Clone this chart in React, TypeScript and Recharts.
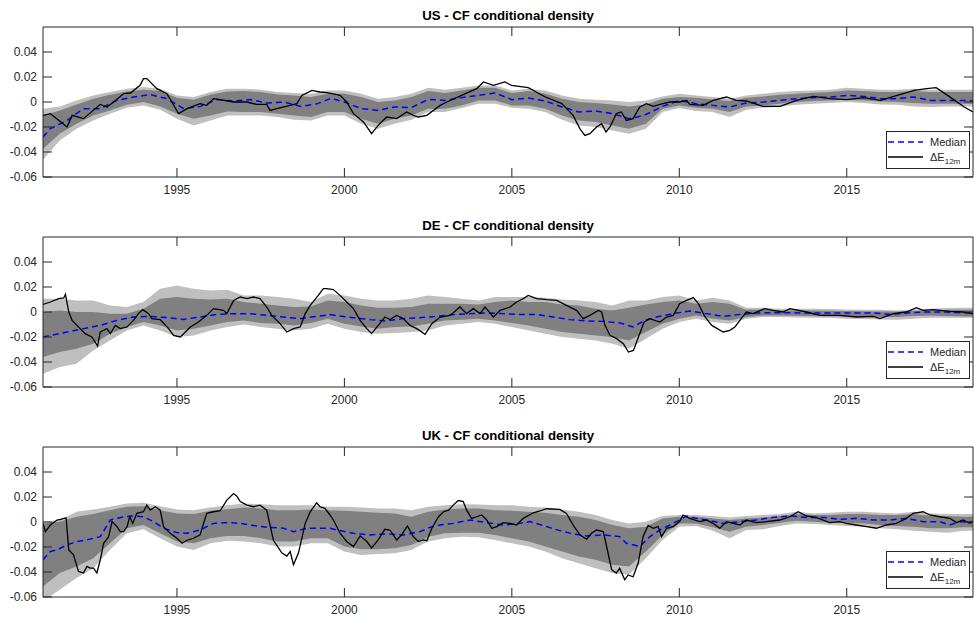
import React from "react";
import { ComposedChart, XAxis, YAxis, Area, Line } from "recharts";

// ---- shared axis data ----
const X_DOMAIN: [number, number] = [1991, 2018.77];
const X_TICKS = [1995, 2000, 2005, 2010, 2015];
const Y_DOMAIN: [number, number] = [-0.06, 0.06];
const Y_TICKS = [-0.06, -0.04, -0.02, 0, 0.02, 0.04];
const TITLES = ["US - CF conditional density", "DE - CF conditional density", "UK - CF conditional density"];
const LEGEND_LABELS = ["Median", "ΔE", "12m"];

// band dates (years)
const bandYears = [
  1991.0, 1991.5, 1992.0, 1992.5, 1993.0, 1993.5, 1994.0, 1994.5, 1995.0, 1995.5,
  1996.0, 1996.5, 1997.0, 1997.5, 1998.0, 1998.5, 1999.0, 1999.5, 2000.0, 2000.5,
  2001.0, 2001.5, 2002.0, 2002.5, 2003.0, 2003.5, 2004.0, 2004.5, 2005.0, 2005.5,
  2006.0, 2006.5, 2007.0, 2007.5, 2008.0, 2008.5, 2009.0, 2009.5, 2010.0, 2010.5,
  2011.0, 2011.5, 2012.0, 2012.5, 2013.0, 2013.5, 2014.0, 2014.5, 2015.0, 2015.5,
  2016.0, 2016.5, 2017.0, 2017.5, 2018.0, 2018.5, 2018.77,
];

// ---- US (values in per mille) ----
const usOuterHi = [-5.3, -3.5, 1.3, 5.3, 8.0, 10.7, 12.0, 10.7, 5.3, 4.0, 8.0, 10.7, 10.7, 9.9, 8.0, 7.2, 6.7, 9.3, 9.3, 6.7, 2.7, 4.0, 6.7, 11.5, 9.9, 11.5, 13.3, 13.3, 9.3, 10.7, 9.3, 5.3, 2.7, 1.9, 1.3, 0.0, 1.3, 4.5, 6.7, 5.3, 4.0, 2.7, 5.3, 6.7, 8.0, 8.8, 9.3, 9.9, 11.5, 10.7, 9.9, 9.9, 10.7, 9.9, 9.9, 9.9, 9.9];
const usInnerHi = [-10.7, -6.7, -1.9, 2.7, 5.9, 8.5, 9.9, 8.8, 3.5, 1.9, 6.1, 8.5, 8.8, 8.0, 6.1, 5.3, 4.0, 6.7, 6.7, 4.0, 0.0, 1.3, 4.0, 8.8, 7.2, 9.3, 11.5, 11.5, 7.2, 8.8, 6.7, 2.7, 0.0, -0.8, -1.9, -3.5, -1.9, 2.7, 4.0, 3.5, 2.1, 0.8, 3.5, 4.5, 5.9, 6.7, 7.5, 8.0, 9.3, 8.8, 8.0, 8.0, 8.8, 8.0, 8.0, 8.0, 8.0];
const usInnerLo = [-37.3, -25.3, -17.3, -10.7, -6.7, -2.1, 0.0, -3.5, -9.3, -13.3, -10.7, -7.5, -8.0, -8.0, -9.3, -10.7, -12.0, -8.0, -8.0, -13.3, -17.3, -13.3, -10.7, -5.3, -5.3, -2.7, 1.3, 1.3, -2.7, -2.7, -5.3, -10.7, -14.7, -16.0, -18.7, -21.3, -17.3, -5.3, -2.7, -4.5, -5.3, -8.0, -3.5, -2.7, -1.3, 0.0, 0.8, 1.3, 1.9, 1.3, 0.5, 0.0, -0.8, -1.3, -1.3, -1.3, -1.3];
const usOuterLo = [-46.1, -30.7, -21.3, -14.7, -9.3, -4.5, -2.7, -6.1, -13.3, -18.7, -14.7, -10.7, -10.7, -10.7, -12.0, -14.1, -14.7, -10.7, -10.7, -17.3, -21.3, -17.3, -14.1, -8.0, -8.0, -4.8, -1.3, -1.3, -4.5, -5.3, -8.0, -14.1, -18.7, -20.0, -22.7, -25.3, -21.3, -8.0, -4.8, -7.2, -8.0, -12.0, -6.1, -4.5, -3.5, -2.1, -1.3, -0.8, 0.0, -0.8, -1.9, -2.1, -3.5, -4.0, -3.5, -3.5, -3.5];
const usMedian: [number, number][] = [
  [1991.0, -28], [1991.22, -21.3], [1991.72, -14.7], [1992.21, -5.3], [1992.71, -5.3], [1993.2, 1.3], [1993.7, 4], [1994.2, 5.9], [1994.7, 2.7], [1995.2, -5.3], [1995.7, -3.5], [1996.2, 1.9], [1996.7, 0.8], [1997.2, 1.9], [1997.7, -0.8], [1998.2, 0], [1998.7, -3.5], [1999.2, -1.3], [1999.6, 3], [2000.0, 0], [2000.5, -5.3], [2001.0, -6.7], [2001.5, -4], [2002.0, -4.5], [2002.5, 2.1], [2003.0, 1.3], [2003.5, 3.5], [2004.0, 5.3], [2004.5, 7.2], [2005.0, 1.9], [2005.5, 3.2], [2006.0, 0.8], [2006.5, -4], [2007.0, -8], [2007.5, -7.2], [2008.0, -9.3], [2008.5, -13.3], [2008.75, -12], [2009.0, -10], [2009.5, -3.5], [2010.0, 1.3], [2010.5, -1.3], [2011.0, -2.7], [2011.5, -4], [2012.0, -0.8], [2012.5, 0], [2013.0, 1.3], [2013.5, 2.7], [2014.0, 3.5], [2014.5, 4], [2015.0, 5.3], [2015.5, 4.5], [2016.0, 2.7], [2016.5, 2.7], [2017.0, 4], [2017.5, 1.3], [2018.0, 1.3], [2018.5, 1.3], [2018.77, 0.8],
];
const usActual: [number, number][] = [
  [1991.0, -10.7], [1991.22, -9.3], [1991.72, -20], [1991.87, -10.7], [1992.21, -13.3], [1992.71, -1.9], [1992.91, -4], [1993.11, 0], [1993.41, 6.7], [1993.61, 7.2], [1993.9, 13.3], [1994.0, 18.7], [1994.1, 18.7], [1994.4, 10.7], [1994.7, 6.7], [1995.05, -9.3], [1995.3, -5.3], [1995.69, -1.3], [1995.89, -2.7], [1996.09, 2.7], [1996.29, 1.9], [1996.69, 0], [1997.09, 0], [1997.38, -1.9], [1997.68, -1.9], [1997.78, -6.7], [1997.98, -5.3], [1998.38, -2.7], [1998.58, -1.3], [1998.73, 5.3], [1999.03, 9.3], [1999.27, 8], [1999.47, 7.5], [1999.67, 6.5], [1999.87, 5.3], [2000.07, 0], [2000.27, -9.3], [2000.57, -16], [2000.81, -25.3], [2001.01, -18.7], [2001.26, -12], [2001.56, -13.3], [2001.86, -8], [2002.06, -10.7], [2002.21, -12], [2002.46, -10.7], [2002.86, -2.7], [2003.06, 0], [2003.5, 5.3], [2003.95, 10.7], [2004.15, 16], [2004.45, 13.3], [2004.79, 16], [2004.99, 13.3], [2005.49, 11.5], [2006.0, 4], [2006.49, -1.3], [2006.83, -10.7], [2007.03, -21.3], [2007.18, -26.7], [2007.33, -25.3], [2007.53, -20], [2007.68, -17.3], [2007.81, -24], [2007.93, -20], [2008.12, -9.3], [2008.27, -8], [2008.42, -14.7], [2008.62, -13.3], [2008.82, -4], [2009.02, -1.3], [2009.22, -3.5], [2009.51, -1.3], [2009.72, 0], [2010.01, 0], [2010.22, 1.3], [2010.31, -1.9], [2010.71, -2.7], [2011.01, 1.3], [2011.41, 4], [2011.7, 1.3], [2012.0, 0.8], [2012.5, -3.5], [2013.01, -3.5], [2013.5, 1.3], [2014.0, 4.5], [2014.51, 2.7], [2015.01, 1.9], [2015.5, 3.5], [2016.01, 1.3], [2016.51, 5.3], [2017.01, 9.3], [2017.38, 10.7], [2017.67, 11.5], [2018.01, 5.3], [2018.51, -4], [2018.77, -8],
];

// ---- DE (values in per mille) ----
const deOuterHi = [10.7, 10.7, 9.3, 9.3, 5.3, 4, 8, 18.7, 21.3, 18.7, 17.3, 17.9, 13.3, 13.3, 12, 10.7, 8, 14.7, 13.3, 10.7, 9.3, 9.3, 10.7, 13.3, 12, 10.7, 9.3, 12, 12, 12, 11.5, 10.1, 9.3, 8, 5.3, 9.3, 9.3, 12, 13.3, 9.3, 11.5, 9.3, 3.5, 3.5, 2.7, 2.7, 2.7, 2.4, 2.1, 1.9, 1.9, 1.3, 2.1, 2.7, 3.2, 3.5, 3.5];
const deInnerHi = [0, 1.3, 0, 0, -1.3, -1.3, 2.7, 10.7, 12, 10.7, 10.1, 10.7, 8, 6.7, 5.3, 4, 4.5, 9.3, 8, 5.3, 3.5, 3.5, 4, 6.7, 6.7, 6.7, 6.1, 8, 9.3, 8, 8, 6.1, 5.3, 2.7, 1.3, 3.5, 6.1, 8, 9.3, 6.7, 8, 6.7, 1.9, 2.1, 1.3, 1.3, 1.3, 1.1, 0.8, 0.6, 0.5, 0.5, 1.1, 1.3, 1.9, 1.9, 1.9];
const deInnerLo = [-36, -32, -29.3, -25.3, -17.3, -12, -8, -10.7, -14.7, -13.3, -10.7, -8, -6.7, -8.8, -9.3, -10.7, -8.8, -5.3, -9.3, -11.5, -13.3, -12, -11.5, -9.3, -6.7, -6.1, -5.3, -6.7, -8.8, -10.7, -13.3, -16, -17.3, -18.7, -20, -22.7, -16, -9.3, -5.3, -2.7, -5.3, -6.7, -4, -2.7, -2.7, -2.9, -3.2, -3.3, -3.5, -3.7, -4, -4, -3.2, -2.7, -3.2, -3.5, -3.5];
const deOuterLo = [-49.3, -44, -41.3, -30.7, -22.7, -14.7, -10.7, -14.7, -20, -18.7, -14.7, -12, -9.9, -12, -13.3, -14.7, -13.3, -9.3, -13.3, -16, -17.3, -16.8, -16, -14.7, -10.7, -9.3, -8, -9.3, -12, -14.7, -17.3, -20, -21.3, -22.7, -25.3, -29.3, -21.3, -13.3, -8, -5.3, -8, -9.3, -5.3, -4, -4, -4.3, -4.5, -4.8, -5.3, -5.6, -5.9, -6.1, -5.3, -4.5, -4.5, -4.5, -4.5];
const deMedian: [number, number][] = [
  [1991.0, -20], [1991.72, -16], [1992.21, -13.3], [1992.71, -10.7], [1993.21, -6.7], [1993.7, -4], [1994.2, -3.5], [1994.7, -4.5], [1995.2, -5.9], [1995.69, -4], [1996.19, -1.9], [1996.69, -1.3], [1997.18, -1.3], [1997.68, -2.7], [1998.18, -4], [1998.68, -5.3], [1999.17, -3.5], [1999.57, -2.1], [2000.07, -4], [2000.77, -6.1], [2001.26, -7.2], [2001.76, -5.3], [2002.26, -4.5], [2002.75, -3.5], [2003.25, -2.1], [2003.75, -1.3], [2004.24, -0.8], [2004.74, -1.3], [2005.24, -1.9], [2005.74, -1.9], [2006.23, -4], [2006.73, -6.1], [2007.23, -7.2], [2007.73, -7.5], [2008.23, -8.8], [2008.62, -12], [2008.97, -6.7], [2009.32, -4], [2009.82, -1.3], [2010.31, 0.8], [2010.81, -1.3], [2011.31, -3.5], [2011.81, -1.9], [2012.31, -0.8], [2012.8, -0.5], [2013.8, -0.8], [2014.8, -0.8], [2015.8, -0.8], [2016.3, -1.9], [2016.8, -0.8], [2017.3, 0], [2017.8, 0], [2018.77, -0.8],
];
const deActual: [number, number][] = [
  [1991.0, 6.1], [1991.22, 8], [1991.47, 10.7], [1991.62, 11.2], [1991.67, 14.1], [1991.77, 0], [1991.87, -6.7], [1992.11, -13.3], [1992.26, -17.3], [1992.46, -20], [1992.63, -27.2], [1992.71, -16], [1992.91, -13.3], [1993.01, -17.3], [1993.16, -10.7], [1993.31, -13.3], [1993.51, -12], [1993.7, -6.7], [1993.85, -1.3], [1993.98, 1.9], [1994.15, -1.3], [1994.25, -5.3], [1994.5, -6.1], [1994.75, -13.3], [1994.9, -18.7], [1995.1, -20], [1995.25, -16], [1995.4, -12], [1995.64, -8], [1995.89, -2.7], [1996.09, 2.7], [1996.39, 1.3], [1996.49, -1.3], [1996.69, 9.3], [1996.89, 12], [1997.09, 10.7], [1997.28, 12], [1997.48, 10.7], [1997.68, 4], [1997.83, -2.7], [1998.08, -9.3], [1998.28, -16], [1998.48, -13.3], [1998.68, -12], [1998.83, -1.3], [1998.98, 5.3], [1999.22, 13.3], [1999.37, 18.7], [1999.47, 18.7], [1999.67, 17.9], [1999.87, 13.3], [2000.07, 8], [2000.27, 2.7], [2000.47, -6.7], [2000.67, -13.3], [2000.81, -17.3], [2001.01, -10.7], [2001.21, -4], [2001.36, -6.1], [2001.56, -2.7], [2001.76, -5.3], [2001.96, -10.7], [2002.16, -13.3], [2002.41, -17.9], [2002.61, -9.3], [2002.86, -4], [2003.16, -2.7], [2003.45, 4], [2003.65, -1.3], [2003.85, 2.7], [2004.05, -1.3], [2004.2, 4], [2004.45, -4], [2004.65, 1.3], [2004.95, 4], [2005.14, 8], [2005.34, 10.7], [2005.49, 13.3], [2005.74, 10.7], [2006.04, 9.9], [2006.34, 9.3], [2006.63, 5.3], [2006.93, 1.3], [2007.13, -5.3], [2007.33, -2.7], [2007.58, 1.3], [2007.68, 0], [2007.78, -10.7], [2007.93, -18.7], [2008.13, -21.3], [2008.33, -25.3], [2008.48, -32], [2008.63, -30.7], [2008.78, -20], [2008.95, -8], [2009.12, -5.3], [2009.42, -8], [2009.62, -4], [2009.82, -2.7], [2010.01, 6.7], [2010.22, 9.3], [2010.42, 11.5], [2010.57, 6.7], [2010.77, -4], [2010.97, -10.7], [2011.31, -16], [2011.51, -14.7], [2011.66, -12], [2011.81, -6.7], [2012.0, 0], [2012.2, -1.3], [2012.55, 2.7], [2012.8, 1.3], [2013.1, 0], [2013.3, 2.7], [2013.8, 0], [2014.2, -2.7], [2014.79, -2.7], [2015.29, -4], [2015.79, -3.5], [2015.99, -5.3], [2016.39, -1.3], [2016.78, 0], [2017.08, 3.5], [2017.28, 1.3], [2017.58, 1.9], [2018.08, 0.5], [2018.47, 0], [2018.77, -1.3],
];

// ---- UK (values in per mille) ----
const ukOuterHi = [0.3, 1.6, 8.2, 10.1, 12.2, 14.9, 15.4, 12.7, 10.1, 9.5, 11.7, 13.5, 14.9, 14.3, 13.5, 13.5, 13.5, 12.2, 12.2, 11.7, 10.9, 10.9, 9.5, 12.2, 13.5, 14.3, 14.1, 13.5, 13.5, 12.2, 11.7, 10.1, 8.2, 5.6, 1.6, -1.1, 0.3, 4.8, 5.6, 5.6, 4.8, 3.7, 4.8, 5.6, 6.4, 8.2, 6.9, 7.4, 8.2, 8.2, 7.4, 6.9, 8.2, 6.9, 6.4, 6.4, 6.4];
const ukInnerHi = [-1.1, 0.3, 4.2, 6.4, 9.5, 12.2, 12.7, 9.5, 6.9, 6.4, 9, 10.3, 11.7, 10.9, 9.5, 9.5, 10.1, 9.5, 9, 8.2, 7.4, 6.9, 4.2, 8.2, 10.1, 10.9, 10.9, 9.5, 9, 8.2, 7.4, 5.6, 4.2, 1.6, -2.4, -5, -3.7, 2.9, 4.2, 4.2, 2.9, 1.6, 2.9, 3.7, 4.8, 6.4, 5.6, 5.6, 6.4, 6.4, 5.6, 5.6, 6.4, 4.8, 4.8, 4.2, 4.2];
const ukInnerLo = [-51.5, -40.8, -35.5, -28.9, -17, -5, -2.4, -9, -15.6, -17, -13, -11.1, -11.1, -13, -15.6, -15.6, -13, -13, -19.6, -21.8, -21.8, -21, -18.3, -11.7, -9, -8.5, -8.5, -10.3, -13, -15.6, -19.6, -23.6, -27.6, -30.2, -34.2, -35.5, -23.6, -10.3, -1.1, -1.1, -4.2, -7.7, -3.7, -2.4, -0.5, 1.1, 0.3, -0.5, -0.5, -1.1, -2.4, -3.2, -3.7, -5, -5, -4.2, -4.2];
const ukOuterLo = [-63.4, -54.1, -44.8, -36.9, -22.3, -9, -5.8, -13, -19.6, -22.3, -17, -14.9, -15.6, -17, -19.6, -19.6, -17, -17, -23.6, -26.3, -25.5, -24.9, -22.3, -15.6, -13, -11.7, -12.2, -14.3, -17, -19.6, -23.6, -28.9, -32.9, -36.9, -40.8, -42.2, -28.9, -14.3, -3.7, -3.2, -6.9, -13, -6.4, -5.8, -3.2, -1.1, -1.6, -2.4, -3.2, -3.7, -5, -5.8, -6.9, -7.7, -8.5, -6.9, -6.9];
const ukMedian: [number, number][] = [
  [1991.0, -30.2], [1991.22, -23.6], [1991.42, -22.3], [1991.72, -18.3], [1992.01, -15.6], [1992.31, -14.3], [1992.71, -11.7], [1993.01, 1.6], [1993.41, 4.2], [1993.7, 4.8], [1994.0, 4.2], [1994.3, 0.3], [1994.6, -5], [1995.0, -8.5], [1995.3, -9], [1995.69, -6.4], [1996.09, -1.1], [1996.49, -0.5], [1996.89, -1.1], [1997.18, -2.4], [1997.68, -4.2], [1998.18, -5], [1998.48, -7.7], [1998.88, -5], [1999.57, -5], [1999.77, -6.4], [2000.27, -9], [2000.77, -10.3], [2001.26, -9.5], [2001.76, -10.3], [2002.26, -7.7], [2002.56, -4.2], [2002.86, -2.4], [2003.25, -1.1], [2003.75, 1.6], [2004.24, -0.5], [2004.74, -2.4], [2005.24, -1.1], [2005.54, 0.3], [2006.04, -3.7], [2006.43, -6.9], [2006.83, -9.5], [2007.23, -11.1], [2007.73, -10.3], [2008.22, -11.7], [2008.42, -17], [2008.82, -19.6], [2009.12, -11.7], [2009.42, -6.4], [2009.72, -2.4], [2010.01, 1.6], [2010.21, 4.8], [2010.51, 2.9], [2010.81, 1.6], [2011.31, -1.1], [2011.81, 0.3], [2012.3, 1.6], [2012.8, 3.7], [2013.3, 4.8], [2013.8, 3.7], [2014.29, 3.7], [2014.79, 2.1], [2015.29, 2.9], [2015.79, 1.6], [2016.28, 1.6], [2016.78, 2.9], [2017.28, 0.3], [2017.78, 0.3], [2018.08, -2.4], [2018.38, 0.3], [2018.77, 0.3],
];
const ukActual: [number, number][] = [
  [1991.0, -1.1], [1991.07, -7.7], [1991.22, -2.4], [1991.42, 1.6], [1991.52, 2.1], [1991.62, 2.9], [1991.69, 3.2], [1991.77, -22.3], [1991.91, -26.3], [1992.06, -39.5], [1992.21, -40.8], [1992.31, -35.5], [1992.41, -36.9], [1992.51, -36.9], [1992.61, -40.8], [1992.71, -30.2], [1992.81, -17], [1992.96, -11.7], [1993.06, 0.3], [1993.21, -3.7], [1993.31, -7.7], [1993.41, -7.7], [1993.51, -3.7], [1993.59, 4.2], [1993.68, -1.1], [1993.8, 6.9], [1994.0, 8.2], [1994.1, 13.5], [1994.2, 9.5], [1994.35, 12.2], [1994.5, 9.5], [1994.6, -3.7], [1994.8, -9], [1995.0, -13], [1995.15, -17], [1995.3, -14.6], [1995.49, -13], [1995.69, -10.3], [1995.89, 6.9], [1996.09, 8.2], [1996.29, 9], [1996.49, 17.5], [1996.69, 22.8], [1996.79, 20.7], [1996.89, 16.4], [1997.09, 13.5], [1997.28, 12.2], [1997.48, 13.5], [1997.68, 9.5], [1997.88, -14.6], [1998.13, -24.7], [1998.28, -27.3], [1998.38, -23.6], [1998.48, -34.2], [1998.63, -24.7], [1998.83, -1.1], [1998.98, 8.2], [1999.17, 15.4], [1999.27, 12.2], [1999.42, 10.9], [1999.57, 5.6], [1999.67, 1.6], [1999.87, -9], [2000.07, -15.6], [2000.27, -19.6], [2000.47, -11.1], [2000.67, -15.6], [2000.81, -20.7], [2001.01, -14.3], [2001.21, -5.8], [2001.36, -6.4], [2001.56, -14.3], [2001.71, -10.3], [2001.88, -3.2], [2002.06, -11.7], [2002.21, -15.6], [2002.36, -14.3], [2002.46, -14.9], [2002.61, -5], [2002.81, 4.2], [2002.96, 8.2], [2003.11, 9.5], [2003.25, 13.5], [2003.4, 17.2], [2003.55, 16.4], [2003.65, 9.5], [2003.8, 2.9], [2003.95, 4.2], [2004.1, 5.6], [2004.25, 1.6], [2004.4, -5], [2004.55, -3.7], [2004.74, -0.5], [2004.94, -1.1], [2005.14, -2.4], [2005.34, 2.9], [2005.64, 7.4], [2005.84, 8.8], [2006.04, 10.6], [2006.43, 10.1], [2006.63, 6.9], [2006.83, -2.4], [2007.03, -10.3], [2007.23, -13.8], [2007.38, -9], [2007.53, -6.4], [2007.73, -7.7], [2007.83, -19.6], [2007.98, -38.2], [2008.12, -40.8], [2008.22, -37.1], [2008.37, -46.2], [2008.47, -42.4], [2008.62, -43.8], [2008.77, -33], [2008.92, -11.6], [2009.07, -2.8], [2009.22, -5], [2009.37, -3.7], [2009.47, -11.7], [2009.62, -5], [2009.82, -3.7], [2010.01, 0.3], [2010.11, 5.6], [2010.31, 2.9], [2010.61, 0.3], [2010.81, 1.6], [2011.01, -1.1], [2011.21, -5], [2011.41, 0.3], [2011.61, -1.1], [2011.81, -2.4], [2012.0, 1.6], [2012.3, -0.5], [2012.6, 0.3], [2013.0, 1.6], [2013.3, 4.2], [2013.55, 8.2], [2013.8, 4.8], [2014.09, 3.7], [2014.49, -0.5], [2014.79, 0.3], [2014.99, -1.1], [2015.29, -2.4], [2015.59, -3.7], [2015.89, -5], [2016.18, -2.4], [2016.48, -1.1], [2016.78, 2.9], [2016.98, 6.9], [2017.28, 8.2], [2017.48, 5.6], [2017.78, 4.2], [2018.08, 2.9], [2018.28, -0.5], [2018.47, 1.6], [2018.67, -1.1], [2018.77, 0.3],
];

// ---- table builders (per mille -> fraction) ----
const buildBands = (oLo: number[], iLo: number[], iHi: number[], oHi: number[]) =>
  bandYears.map((t, i) => ({ t, outer: [oLo[i] / 1000, oHi[i] / 1000], inner: [iLo[i] / 1000, iHi[i] / 1000] }));
const buildLine = (pairs: [number, number][]) => pairs.map(([t, v]) => ({ t, v: v / 1000 }));

const PANELS = [
  { title: TITLES[0], bands: buildBands(usOuterLo, usInnerLo, usInnerHi, usOuterHi), median: buildLine(usMedian), actual: buildLine(usActual) },
  { title: TITLES[1], bands: buildBands(deOuterLo, deInnerLo, deInnerHi, deOuterHi), median: buildLine(deMedian), actual: buildLine(deActual) },
  { title: TITLES[2], bands: buildBands(ukOuterLo, ukInnerLo, ukInnerHi, ukOuterHi), median: buildLine(ukMedian), actual: buildLine(ukActual) },
];

const FONT = "'Liberation Sans', Arial, Helvetica, sans-serif";
const AX = "#262626";
const TXT = "#262626";
const TICK_LEN = 9;

const fmtY = (v: number) => (Math.abs(v) < 1e-9 ? "0" : v.toFixed(2));

const BottomTick = (p: any) => (
  <g>
    <line x1={p.x} x2={p.x} y1={p.y} y2={p.y - TICK_LEN} stroke={AX} strokeWidth={1} />
    <text x={p.x} y={p.y + 17} textAnchor="middle" fontSize={12} fill={TXT} fontFamily={FONT}>
      {p.payload.value}
    </text>
  </g>
);
const TopTick = (p: any) => (
  <line x1={p.x} x2={p.x} y1={p.y} y2={p.y + TICK_LEN} stroke={AX} strokeWidth={1} />
);
const LeftTick = (p: any) => (
  <g>
    <line x1={p.x} x2={p.x + TICK_LEN} y1={p.y} y2={p.y} stroke={AX} strokeWidth={1} />
    <text x={p.x - 6} y={p.y + 4} textAnchor="end" fontSize={12} fill={TXT} fontFamily={FONT}>
      {fmtY(p.payload.value)}
    </text>
  </g>
);
const RightTick = (p: any) => (
  <line x1={p.x} x2={p.x - TICK_LEN} y1={p.y} y2={p.y} stroke={AX} strokeWidth={1} />
);

const LegendBox = () => (
  <div
    style={{
      position: "absolute",
      left: 886,
      top: 131,
      width: 84,
      height: 38,
      boxSizing: "border-box",
      border: `1px solid ${AX}`,
      background: "#fff",
      zIndex: 2,
    }}
  >
    <svg width={82} height={36} style={{ display: "block" }}>
      <line x1={1} x2={36} y1={10} y2={10} stroke="#0000ff" strokeWidth={1.5} strokeDasharray="6 4" />
      <text x={43} y={14} fontSize={11} fill={TXT} fontFamily={FONT}>{LEGEND_LABELS[0]}</text>
      <line x1={1} x2={36} y1={25} y2={25} stroke="#000" strokeWidth={1.3} />
      <text x={43} y={29} fontSize={11} fill={TXT} fontFamily={FONT}>
        {LEGEND_LABELS[1]}
        <tspan fontSize={8} dy={3}>{LEGEND_LABELS[2]}</tspan>
      </text>
    </svg>
  </div>
);

const Panel = ({ panel, top }: { panel: any; top: number }) => (
  <div style={{ position: "absolute", left: 0, top, width: 974, height: 210 }}>
    <ComposedChart width={974} height={210} margin={{ top: 26, right: 0, bottom: 0, left: 0 }}>
      <XAxis
        dataKey="t"
        type="number"
        domain={X_DOMAIN}
        ticks={X_TICKS}
        allowDataOverflow
        height={33}
        tickSize={0}
        tickMargin={0}
        tickLine={false}
        tick={<BottomTick />}
        axisLine={{ stroke: AX, strokeWidth: 1 }}
        interval={0}
      />
      <XAxis
        xAxisId="top"
        dataKey="t"
        orientation="top"
        type="number"
        domain={X_DOMAIN}
        ticks={X_TICKS}
        allowDataOverflow
        height={1}
        tickSize={0}
        tickMargin={0}
        tickLine={false}
        tick={<TopTick />}
        axisLine={{ stroke: AX, strokeWidth: 1 }}
        interval={0}
      />
      <YAxis
        type="number"
        domain={Y_DOMAIN}
        ticks={Y_TICKS}
        allowDataOverflow
        width={43}
        tickSize={0}
        tickMargin={0}
        tickLine={false}
        tick={<LeftTick />}
        axisLine={{ stroke: AX, strokeWidth: 1 }}
        interval={0}
      />
      <YAxis
        yAxisId="r"
        orientation="right"
        type="number"
        domain={Y_DOMAIN}
        ticks={Y_TICKS}
        allowDataOverflow
        width={1}
        tickSize={0}
        tickMargin={0}
        tickLine={false}
        tick={<RightTick />}
        axisLine={{ stroke: AX, strokeWidth: 1 }}
        interval={0}
      />
      <Area data={panel.bands} dataKey="outer" type="linear" stroke="none" fill="#bfbfbf" fillOpacity={1} isAnimationActive={false} dot={false} activeDot={false} />
      <Area data={panel.bands} dataKey="inner" type="linear" stroke="none" fill="#808080" fillOpacity={1} isAnimationActive={false} dot={false} activeDot={false} />
      <Line data={panel.median} dataKey="v" type="linear" stroke="#0000ff" strokeWidth={1.5} strokeDasharray="6 4" dot={false} activeDot={false} isAnimationActive={false} />
      <Line data={panel.actual} dataKey="v" type="linear" stroke="#000000" strokeWidth={1.3} dot={false} activeDot={false} isAnimationActive={false} />
      {/* invisible series that binds the mirrored top / right axes of the box */}
      <Line data={panel.median} xAxisId="top" yAxisId="r" dataKey="v" type="linear" stroke="none" strokeOpacity={0} dot={false} activeDot={false} isAnimationActive={false} legendType="none" />
    </ComposedChart>
    <div
      style={{
        position: "absolute",
        left: 43,
        top: 8,
        width: 930,
        textAlign: "center",
        fontFamily: FONT,
        fontWeight: "bold",
        fontSize: 13.2,
        lineHeight: "16px",
        color: "#000",
        zIndex: 2,
      }}
    >
      {panel.title}
    </div>
    <LegendBox />
  </div>
);

export default function App() {
  return (
    <div style={{ position: "absolute", left: 0, top: 0, width: 974, height: 619, background: "#fff" }}>
      {PANELS.map((p, i) => (
        <Panel key={i} panel={p} top={i * 210} />
      ))}
    </div>
  );
}
